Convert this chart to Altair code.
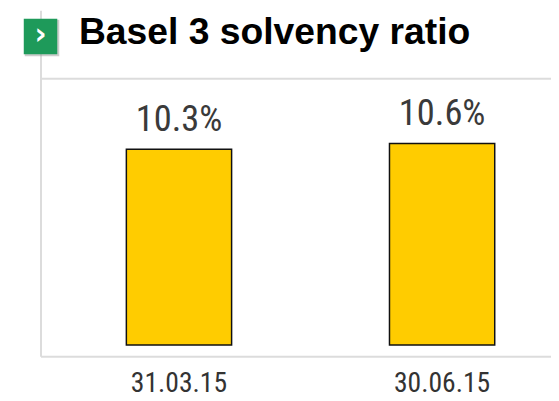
import altair as alt
import pandas as pd

categories = ["31.03.15", "30.06.15"]
values = [10.3, 10.6]
value_labels = ["10.3%", "10.6%"]
title_text = "Basel 3 solvency ratio"

df = pd.DataFrame({"date": categories, "ratio": values, "label": value_labels})

W, H = 551, 393
COND = "Roboto Condensed"

xscale = alt.Scale(domain=categories, range=[40, 574], paddingInner=0.6, paddingOuter=0.3)
yscale = alt.Scale(domain=[0, 12], range=[339, 107.7], zero=True, nice=False)

base = alt.Chart(df)

bars = base.mark_bar(color="#FFCC00", stroke="#111111", strokeWidth=1.5).encode(
    x=alt.X("date:N", scale=xscale, axis=None, sort=categories),
    y=alt.Y("ratio:Q", scale=yscale, axis=None),
)

vlabels = base.mark_text(font=COND, fontSize=37, color="#3a3a3a",
                         baseline="alphabetic", dy=-19).encode(
    x=alt.X("date:N", scale=xscale, sort=categories),
    y=alt.Y("ratio:Q", scale=yscale),
    text="label:N",
)

xlabels = base.mark_text(font=COND, fontSize=28, color="#333333",
                         baseline="alphabetic").encode(
    x=alt.X("date:N", scale=xscale, sort=categories),
    y=alt.value(387),
    text="date:N",
)

one = alt.Data(values=[{"k": 1}])
frame_color = "#DCDCDC"
vline = alt.Chart(one).mark_rule(color=frame_color, strokeWidth=2).encode(
    x=alt.value(33.5), y=alt.value(0), y2=alt.value(351))
hline1 = alt.Chart(one).mark_rule(color=frame_color, strokeWidth=2).encode(
    x=alt.value(33.5), x2=alt.value(W), y=alt.value(69))
hline2 = alt.Chart(one).mark_rule(color=frame_color, strokeWidth=2).encode(
    x=alt.value(33.5), x2=alt.value(W), y=alt.value(351))

shadow = alt.Chart(one).mark_rect(color="#9a9a9a", opacity=0.5).encode(
    x=alt.value(17), x2=alt.value(52), y=alt.value(9), y2=alt.value(46))
icon = alt.Chart(one).mark_rect(color="#1E9A5A").encode(
    x=alt.value(16), x2=alt.value(50), y=alt.value(8), y2=alt.value(44))
chev = alt.Chart(one).mark_text(text="\u203a", font="DejaVu Sans", fontWeight="bold",
                                fontSize=30, color="white", baseline="middle", align="center").encode(
    x=alt.value(33), y=alt.value(25))

title = alt.Chart(one).mark_text(text=title_text, font="Liberation Sans", fontWeight="bold",
                                 fontSize=37.8, color="#000000", align="left",
                                 baseline="alphabetic").encode(
    x=alt.value(72), y=alt.value(34))

chart = alt.layer(vline, hline1, hline2, bars, vlabels, xlabels, shadow, icon, chev, title).properties(
    width=W, height=H,
    autosize=alt.AutoSizeParams(type="none"),
    padding=0,
).configure_view(stroke=None)

chart.save("out.html", embed_options={"renderer": "svg", "actions": False})
